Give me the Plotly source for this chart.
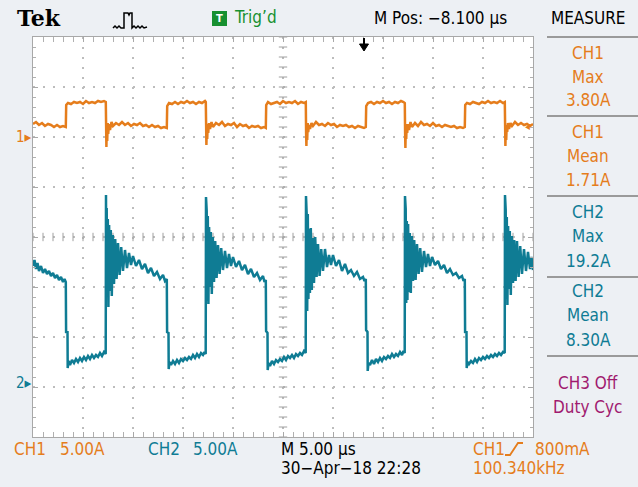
import plotly.graph_objects as go

# ---------------- data (time in us across the 10-div screen, current in A) -------------
ch1_t = [
    0.0, 0.3, 0.6, 0.9, 1.2, 1.5, 1.8, 2.1, 2.4, 2.7, 3.0, 3.28,
    3.32, 3.5, 3.8, 4.1, 4.4, 4.7, 5.0, 5.3, 5.6, 5.9, 6.2, 6.5, 6.8, 7.1, 7.28,
    7.31, 7.34, 7.38, 7.42, 7.47, 7.52, 7.6, 7.7, 7.85, 8.0, 8.3, 8.6, 8.9, 9.2, 9.5, 9.8, 10.1, 10.4, 10.7, 11.0, 11.3, 11.6, 11.9, 12.2, 12.5, 12.8, 13.1, 13.38,
    13.42, 13.6, 13.9, 14.2, 14.5, 14.8, 15.1, 15.4, 15.7, 16.0, 16.3, 16.6, 16.9, 17.2, 17.28,
    17.31, 17.34, 17.38, 17.42, 17.47, 17.52, 17.6, 17.7, 17.85, 18.0, 18.3, 18.6, 18.9, 19.2, 19.5, 19.8, 20.1, 20.4, 20.7, 21.0, 21.3, 21.6, 21.9, 22.2, 22.5, 22.8, 23.1, 23.28,
    23.32, 23.5, 23.8, 24.1, 24.4, 24.7, 25.0, 25.3, 25.6, 25.9, 26.2, 26.5, 26.8, 27.1, 27.28,
    27.31, 27.34, 27.38, 27.42, 27.47, 27.52, 27.6, 27.7, 27.85, 28.0, 28.3, 28.6, 28.9, 29.2, 29.5, 29.8, 30.1, 30.4, 30.7, 31.0, 31.3, 31.6, 31.9, 32.2, 32.5, 32.8, 33.1, 33.28,
    33.32, 33.5, 33.8, 34.1, 34.4, 34.7, 35.0, 35.3, 35.6, 35.9, 36.2, 36.5, 36.8, 37.05, 37.18,
    37.21, 37.24, 37.28, 37.32, 37.37, 37.42, 37.5, 37.6, 37.75, 37.9, 38.2, 38.5, 38.8, 39.1, 39.4, 39.7, 40.0, 40.3, 40.6, 40.9, 41.2, 41.5, 41.8, 42.1, 42.4, 42.7, 43.0, 43.18,
    43.22, 43.4, 43.7, 44.0, 44.3, 44.6, 44.9, 45.2, 45.5, 45.8, 46.1, 46.4, 46.7, 47.0, 47.18,
    47.21, 47.24, 47.28, 47.32, 47.37, 47.42, 47.5, 47.6, 47.75, 47.9, 48.2, 48.5, 48.8, 49.1, 49.4, 49.7, 50.0,
]
ch1_a = [
    1.3, 1.5, 1.2, 1.4, 1.1, 1.3, 1.2, 1.0, 1.2, 1.0, 1.1, 1.0,
    3.2, 3.4, 3.3, 3.5, 3.4, 3.5, 3.3, 3.6, 3.4, 3.5, 3.4, 3.6, 3.5, 3.6, 3.5,
    0.5, -1.0, 1.2, -0.4, 1.4, 0.3, 1.3, 0.7, 1.5, 1.1, 1.4, 1.2, 1.5, 1.2, 1.4, 1.1, 1.3, 1.2, 1.4, 1.1, 1.2, 1.0, 1.2, 1.0, 1.1, 0.9, 1.0, 0.9,
    3.1, 3.4, 3.3, 3.5, 3.3, 3.5, 3.4, 3.6, 3.4, 3.5, 3.3, 3.5, 3.4, 3.6, 3.5,
    0.6, -0.8, 1.1, -0.2, 1.3, 0.4, 1.4, 0.8, 1.5, 1.0, 1.4, 1.2, 1.5, 1.1, 1.3, 1.2, 1.4, 1.0, 1.3, 1.1, 1.2, 0.9, 1.1, 1.0, 1.1, 0.9, 1.0, 0.9,
    3.2, 3.5, 3.3, 3.4, 3.5, 3.3, 3.6, 3.4, 3.5, 3.4, 3.6, 3.3, 3.5, 3.4, 3.5,
    0.4, -0.9, 1.0, -0.3, 1.4, 0.5, 1.2, 0.8, 1.4, 1.1, 1.5, 1.2, 1.3, 1.1, 1.4, 1.2, 1.3, 1.0, 1.2, 1.1, 1.2, 1.0, 1.1, 0.9, 1.1, 1.0, 0.9, 1.0,
    3.1, 3.4, 3.5, 3.3, 3.5, 3.4, 3.6, 3.4, 3.5, 3.3, 3.5, 3.4, 3.6, 3.5, 3.4,
    0.5, -1.1, 1.1, -0.2, 1.3, 0.4, 1.3, 0.7, 1.5, 1.0, 1.4, 1.1, 1.5, 1.2, 1.3, 1.1, 1.4, 1.1, 1.2, 1.0, 1.2, 1.1, 1.0, 1.1, 0.9, 1.0, 0.9, 1.0,
    3.2, 3.4, 3.3, 3.5, 3.4, 3.3, 3.5, 3.4, 3.6, 3.4, 3.5, 3.4, 3.6, 3.4, 3.5,
    0.6, -0.9, 1.0, -0.3, 1.2, 0.5, 1.4, 0.8, 1.4, 1.1, 1.5, 1.2, 1.4, 1.2, 1.3, 1.1, 1.3,
]

ch2_t = [
    0.0, 0.15, 0.3, 0.45, 0.6, 0.8, 1.0, 1.2, 1.4, 1.6, 1.8, 2.0, 2.2, 2.4, 2.6, 2.8, 3.0, 3.15, 3.28,
    3.31, 3.45, 3.47, 3.55, 3.7, 3.9, 4.1, 4.3, 4.5, 4.7, 4.9, 5.1, 5.3, 5.5, 5.7, 5.9, 6.1, 6.3, 6.5, 6.7, 6.9, 7.1, 7.27,
    7.3, 7.33, 7.37, 7.42, 7.48, 7.54, 7.61, 7.69, 7.78, 7.88, 7.98, 8.1, 8.22, 8.36, 8.5, 8.66, 8.82, 9.0, 9.2, 9.4,
    9.6, 9.8, 10.0, 10.3, 10.6, 10.9, 11.2, 11.5, 11.8, 12.1, 12.4, 12.7, 13.0, 13.2, 13.38,
    13.41, 13.55, 13.57, 13.65, 13.8, 14.0, 14.2, 14.4, 14.6, 14.8, 15.0, 15.2, 15.4, 15.6, 15.8, 16.0, 16.2, 16.4, 16.6, 16.8, 17.0, 17.15, 17.27,
    17.3, 17.33, 17.37, 17.42, 17.48, 17.54, 17.61, 17.69, 17.78, 17.88, 17.98, 18.1, 18.22, 18.36, 18.5, 18.66, 18.82, 19.0, 19.2, 19.4,
    19.6, 19.8, 20.0, 20.3, 20.6, 20.9, 21.2, 21.5, 21.8, 22.1, 22.4, 22.7, 23.0, 23.15, 23.28,
    23.31, 23.45, 23.47, 23.55, 23.7, 23.9, 24.1, 24.3, 24.5, 24.7, 24.9, 25.1, 25.3, 25.5, 25.7, 25.9, 26.1, 26.3, 26.5, 26.7, 26.9, 27.1, 27.27,
    27.3, 27.33, 27.37, 27.42, 27.48, 27.54, 27.61, 27.69, 27.78, 27.88, 27.98, 28.1, 28.22, 28.36, 28.5, 28.66, 28.82, 29.0, 29.2, 29.4,
    29.6, 29.8, 30.0, 30.3, 30.6, 30.9, 31.2, 31.5, 31.8, 32.1, 32.4, 32.7, 33.0, 33.15, 33.28,
    33.31, 33.45, 33.47, 33.55, 33.7, 33.9, 34.1, 34.3, 34.5, 34.7, 34.9, 35.1, 35.3, 35.5, 35.7, 35.9, 36.1, 36.3, 36.5, 36.7, 36.9, 37.05, 37.17,
    37.2, 37.23, 37.27, 37.32, 37.38, 37.44, 37.51, 37.59, 37.68, 37.78, 37.88, 38.0, 38.12, 38.26, 38.4, 38.56, 38.72, 38.9, 39.1, 39.3,
    39.5, 39.7, 39.9, 40.2, 40.5, 40.8, 41.1, 41.4, 41.7, 42.0, 42.3, 42.6, 42.9, 43.05, 43.18,
    43.21, 43.35, 43.37, 43.45, 43.6, 43.8, 44.0, 44.2, 44.4, 44.6, 44.8, 45.0, 45.2, 45.4, 45.6, 45.8, 46.0, 46.2, 46.4, 46.6, 46.8, 47.0, 47.17,
    47.2, 47.23, 47.27, 47.32, 47.38, 47.44, 47.51, 47.59, 47.68, 47.78, 47.88, 48.0, 48.12, 48.26, 48.4, 48.56, 48.72, 48.9, 49.1, 49.3,
    49.5, 49.7, 49.85, 50.0,
]
ch2_a = [
    11.7, 12.3, 11.4, 12.0, 11.2, 11.7, 11.0, 11.4, 10.9, 11.2, 10.7, 11.0, 10.5, 10.8, 10.3, 10.6, 10.1, 10.4, 10.1,
    5.0, 5.2, 1.5, 2.2, 1.8, 2.3, 2.0, 2.4, 2.1, 2.5, 2.2, 2.6, 2.3, 2.7, 2.4, 2.8, 2.5, 2.8, 2.6, 3.0, 2.7, 3.1, 2.9,
    18.8, 9.4, 17.5, 8.6, 16.4, 7.6, 15.8, 9.2, 15.3, 8.7, 14.8, 9.9, 14.4, 10.4, 14.0, 10.8, 13.6, 11.2, 13.3, 11.5,
    13.0, 11.8, 12.7, 11.7, 12.3, 11.4, 11.9, 11.0, 11.5, 10.7, 11.1, 10.4, 10.8, 10.2, 10.4,
    5.1, 5.0, 1.4, 2.1, 1.8, 2.2, 1.9, 2.3, 2.0, 2.4, 2.2, 2.5, 2.3, 2.6, 2.4, 2.8, 2.5, 2.9, 2.6, 3.0, 2.8, 3.1, 2.9,
    18.6, 9.0, 17.2, 8.2, 16.7, 7.9, 15.6, 9.6, 15.1, 8.9, 14.6, 10.1, 14.2, 10.5, 13.8, 10.9, 13.5, 11.3, 13.2, 11.5,
    12.9, 11.7, 12.6, 11.6, 12.2, 11.3, 11.8, 10.9, 11.4, 10.6, 11.0, 10.3, 10.7, 10.1, 10.3,
    5.2, 5.0, 1.3, 2.0, 1.7, 2.2, 1.9, 2.3, 2.1, 2.4, 2.2, 2.6, 2.3, 2.7, 2.5, 2.8, 2.5, 2.9, 2.7, 3.0, 2.8, 3.2, 3.0,
    18.7, 10.0, 16.8, 7.2, 16.9, 8.4, 15.4, 9.0, 15.5, 9.3, 14.5, 10.0, 14.6, 10.6, 13.9, 10.7, 13.4, 11.2, 13.4, 11.6,
    12.8, 11.8, 12.8, 11.7, 12.3, 11.2, 11.9, 11.0, 11.3, 10.7, 11.1, 10.4, 10.6, 10.2, 10.4,
    5.3, 5.1, 1.2, 2.0, 1.8, 2.3, 1.9, 2.4, 2.1, 2.5, 2.2, 2.6, 2.4, 2.7, 2.5, 2.9, 2.6, 2.9, 2.7, 3.1, 2.8, 3.2, 3.0,
    18.7, 9.2, 17.4, 8.0, 16.2, 8.3, 15.9, 9.1, 15.0, 9.0, 14.7, 10.2, 14.3, 10.3, 13.9, 10.9, 13.5, 11.1, 13.2, 11.6,
    12.9, 11.7, 12.6, 11.8, 12.2, 11.4, 11.8, 11.0, 11.4, 10.8, 11.0, 10.5, 10.7, 10.2, 10.4,
    5.0, 5.2, 1.5, 2.1, 1.9, 2.2, 2.0, 2.4, 2.1, 2.5, 2.3, 2.6, 2.4, 2.7, 2.5, 2.8, 2.6, 2.9, 2.7, 3.0, 2.8, 3.1, 3.0,
    18.8, 9.6, 17.3, 8.4, 16.6, 7.8, 15.7, 9.4, 15.2, 8.8, 14.7, 10.0, 14.3, 10.2, 14.2, 10.6, 13.7, 10.9, 13.4, 11.2,
    13.1, 11.4, 12.6, 11.3,
]
assert len(ch1_t) == len(ch1_a), (len(ch1_t), len(ch1_a))
assert len(ch2_t) == len(ch2_a), (len(ch2_t), len(ch2_a))

# ---------------- styling ----------------
W, H = 638, 487
L, R, T, B = 33, 533, 37, 437          # plot area in pixels
ORANGE = "#e57d1c"
TEAL = "#0f7c94"
PURPLE = "#a01a6f"
GREEN = "#179030"
GRIDC = "#bdbdbd"
FONT = "DejaVu Sans Condensed, DejaVu Sans, sans-serif"


def px(x, y):
    return (x - L) / (R - L), (B - y) / (B - T)


fig = go.Figure()
fig.add_trace(go.Scatter(x=ch1_t, y=ch1_a, mode="lines", yaxis="y",
                         line=dict(color=ORANGE, width=2.5), hoverinfo="skip"))
fig.add_trace(go.Scatter(x=ch2_t, y=ch2_a, mode="lines", yaxis="y2",
                         line=dict(color=TEAL, width=2.5), hoverinfo="skip"))

# centre crosshair tick marks (graticule decoration)
cx = [i * 1.0 for i in range(0, 51)]
fig.add_trace(go.Scatter(x=cx, y=[-10] * len(cx), mode="markers", yaxis="y",
                         marker=dict(symbol="line-ns", size=6,
                                     line=dict(width=1, color="#a0a0a0")),
                         hoverinfo="skip"))
cy = [-30 + i * 1.0 for i in range(0, 41)]
fig.add_trace(go.Scatter(x=[25] * len(cy), y=cy, mode="markers", yaxis="y",
                         marker=dict(symbol="line-ew", size=6,
                                     line=dict(width=1, color="#a0a0a0")),
                         hoverinfo="skip"))

axis_common = dict(showgrid=True, gridcolor=GRIDC, griddash="2px,8px", gridwidth=1.5,
                   showticklabels=False, zeroline=False, showline=True,
                   linecolor="#a8a8a8", linewidth=1, mirror="allticks",
                   ticks="inside", ticklen=5, tickcolor="#a8a8a8",
                   minor=dict(ticks="inside", ticklen=3, tickcolor="#b0b0b0", dtick=1, showgrid=False),
                   fixedrange=True)

fig.update_layout(
    width=W, height=H,
    margin=dict(l=L, r=W - R, t=T, b=H - B, pad=0),
    paper_bgcolor="#edf0f4",
    plot_bgcolor="white",
    showlegend=False,
    xaxis=dict(range=[0, 50], dtick=5, tick0=0, **axis_common),
    yaxis=dict(range=[-30, 10], dtick=5, tick0=0, **axis_common),
    yaxis2=dict(range=[-5.4, 34.6], overlaying="y", visible=False, fixedrange=True),
)

ann = []


def text(x, y, s, color="black", size=17, xanchor="left", family=FONT, bold=False):
    xx, yy = px(x, y)
    if bold:
        s = "<b>" + s + "</b>"
    ann.append(dict(x=xx, y=yy, xref="paper", yref="paper", text=s, showarrow=False,
                    xanchor=xanchor, yanchor="middle",
                    font=dict(family=family, size=size, color=color)))


# header
text(15, 18, "Tek", size=22, family="DejaVu Serif, serif", bold=True)
text(232, 17, "Trig’d", color=GREEN, size=17)
text(219.5, 18.5, "T", color="white", size=11, xanchor="center", bold=True)
text(372, 18, "M Pos: \u22128.100 µs", size=17)
text(588, 18, "MEASURE", size=17, xanchor="center")

# measure panel
panel = [
    ("CH1", 53, ORANGE), ("Max", 77, ORANGE), ("3.80A", 100, ORANGE),
    ("CH1", 132, ORANGE), ("Mean", 156, ORANGE), ("1.71A", 180, ORANGE),
    ("CH2", 212, TEAL), ("Max", 236, TEAL), ("19.2A", 261, TEAL),
    ("CH2", 291, TEAL), ("Mean", 315, TEAL), ("8.30A", 340, TEAL),
    ("CH3 Off", 383, PURPLE), ("Duty Cyc", 407, PURPLE),
]
for s, y, c in panel:
    text(588, y, s, color=c, size=17, xanchor="center")

# channel ground markers
text(14, 137, "1\u25b8", color=ORANGE, size=15)
text(14, 383, "2\u25b8", color=TEAL, size=15)
text(527, 127, "\u25c2", color=ORANGE, size=11, xanchor="center")

# footer
text(12, 449, "CH1", color=ORANGE)
text(58, 449, "5.00A", color=ORANGE)
text(146, 449, "CH2", color=TEAL)
text(191, 449, "5.00A", color=TEAL)
text(279, 449, "M 5.00 µs", size=17)
text(279, 468, "30\u2212Apr\u221218 22:28", size=17)
text(471, 449, "CH1", color=ORANGE)
text(533, 449, "800mA", color=ORANGE)
text(471, 468, "100.340kHz", color=ORANGE)

fig.update_layout(annotations=ann)


def path(points, close=False):
    parts = []
    for i, (x, y) in enumerate(points):
        xx, yy = px(x, y)
        parts.append(("M" if i == 0 else "L") + f"{xx:.4f},{yy:.4f}")
    return " ".join(parts) + (" Z" if close else "")


shapes = []
# separators in measure panel
for y in [37, 116, 196, 277, 356]:
    x0, y0 = px(547, y)
    x1, _ = px(638, y)
    shapes.append(dict(type="line", xref="paper", yref="paper", x0=x0, x1=x1, y0=y0, y1=y0,
                       line=dict(color="#9a9a9a", width=2)))
# Trig'd box
bx0, by0 = px(212, 26)
bx1, by1 = px(227, 11)
shapes.append(dict(type="rect", xref="paper", yref="paper", x0=bx0, x1=bx1, y0=by0, y1=by1,
                   fillcolor=GREEN, line=dict(width=0), layer="below"))
# acquisition icon
icon = [(113, 28), (115, 26), (117, 28), (119, 26), (121, 28), (124, 28), (124, 13), (128, 13),
        (129, 15), (130, 13), (132, 13), (132, 28), (134, 26), (136, 28), (138, 26), (140, 28),
        (142, 26), (144, 28), (147, 27)]
shapes.append(dict(type="path", xref="paper", yref="paper", path=path(icon),
                   line=dict(color="black", width=1.5)))
# trigger position arrow
shapes.append(dict(type="path", xref="paper", yref="paper", path=path([(364, 38), (364, 46)]),
                   line=dict(color="black", width=2)))
shapes.append(dict(type="path", xref="paper", yref="paper",
                   path=path([(359.5, 44), (368.5, 44), (364, 51)], close=True),
                   fillcolor="black", line=dict(color="black", width=1)))
# trigger slope symbol
shapes.append(dict(type="path", xref="paper", yref="paper",
                   path=path([(505, 455), (510, 455), (518, 443), (523, 443)]),
                   line=dict(color=ORANGE, width=1.8)))
fig.update_layout(shapes=shapes)

fig.write_html("out.html")
